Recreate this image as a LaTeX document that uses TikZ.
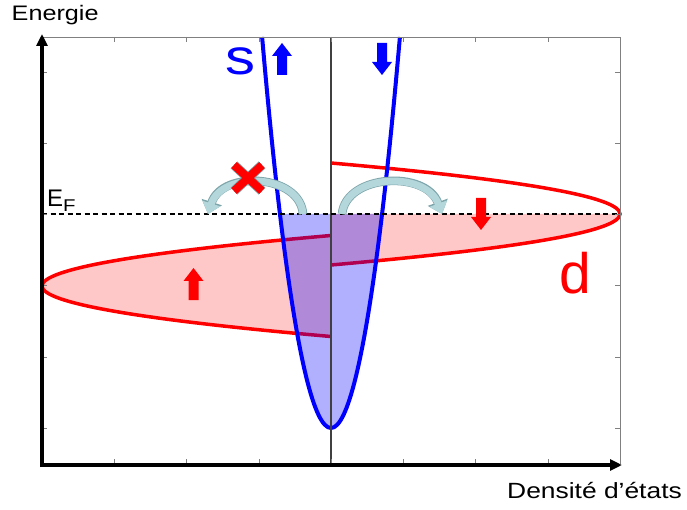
\documentclass[tikz,border=0pt]{standalone}
\usepackage{fontspec}
\setmainfont{Liberation Sans}
\newfontfamily\widefont{Liberation Sans}[FakeStretch=1.2]
\usetikzlibrary{arrows.meta}
\definecolor{bandred}{RGB}{255,0,0}
\definecolor{bandpink}{RGB}{255,200,200}
\definecolor{bandblue}{RGB}{0,0,255}
\definecolor{framegray}{RGB}{128,128,128}
\definecolor{hopfill}{RGB}{180,215,220}
\definecolor{hopedge}{RGB}{125,165,170}
\newcommand{\spinup}[3]{\fill[#1] (#2,#3) ++(-5,0) -- ++(0,-19) -- ++(-5,0) -- ++(10,-13) -- ++(10,13) -- ++(-5,0) -- ++(0,19) -- cycle;}
\newcommand{\spindown}[3]{\fill[#1] (#2,#3) ++(-5,0) -- ++(0,19) -- ++(-5,0) -- ++(10,13) -- ++(10,-13) -- ++(-5,0) -- ++(0,-19) -- cycle;}
\tikzset{
  band/.style={bandred, line width=3.5pt},
  sband/.style={bandblue, line width=4pt},
  hop/.style={hopfill, line width=7pt, -{Triangle[length=11pt,width=18pt]},
    preaction={draw=hopedge, line width=8.6pt, -{Triangle[length=12.5pt,width=20.5pt]}}},
  axis/.style={line width=4pt, -{Triangle[length=12pt,width=11pt]}},
  label/.style={anchor=base west, inner sep=0pt},
}
\begin{document}
\begin{tikzpicture}[x=1pt,y=-1pt]
\useasboundingbox (0,0) rectangle (687,510);

\fill[bandpink] (331,235.5) .. controls (-54.33,269.17) and (-54.33,302.83) .. (331,336.5) -- cycle;
\fill[bandpink] (620,214) .. controls (620,231) and (523.67,248) .. (331,265) -- (331,214) -- cycle;
\draw[band] (331,235.5) .. controls (-54.33,269.17) and (-54.33,302.83) .. (331,336.5);
\draw[band] (331,163) .. controls (716.33,197) and (716.33,231) .. (331,265);

\fill[bandblue, opacity=.31] (280,214) parabola bend (331,428) (382,214) -- cycle;
\draw[sband] (262.1,37) parabola bend (331,428) (399.9,37);

\draw[line width=1.2pt, black!75] (331,37) -- (331,464);
\draw[dash pattern=on 5pt off 3.5pt, line width=1.1pt] (42,214) -- (620,214);

\draw[framegray] (42,37) -- (620,37) -- (620,464);
\foreach \i in {1,...,7} {
  \draw[framegray] ({42+72.25*\i},37) -- ++(0,5);
  \draw[framegray] ({42+72.25*\i},464) -- ++(0,-5);
}
\foreach \j in {0,...,5} {
  \draw[framegray] (42,{72+71.2*\j}) -- ++(5,0);
  \draw[framegray] (620,{72+71.2*\j}) -- ++(-5,0);
}

\draw[axis] (42,467) -- (42,34);
\draw[axis] (40,465) -- (622,465);

\spinup{bandblue}{282}{75}
\spindown{bandblue}{382}{43}
\spinup{bandred}{193.5}{300}
\spindown{bandred}{481}{198}

\draw[hop] (303,214) .. controls (300,174) and (222,170) .. (208,214);
\draw[hop] (342,214) .. controls (346,174) and (426,170) .. (442,214);

\draw[hopedge, line width=9.6pt] (234,165) -- (262,191) (262,165) -- (234,191);
\draw[bandred, line width=8pt] (234,165) -- (262,191) (262,165) -- (234,191);

\node[label, font={\widefont\fontsize{21}{25}\selectfont}] (energie) at (11.5,21) {Energie};
\node[label, font={\widefont\fontsize{22}{26}\selectfont}] (dos) at (507,498) {Densité d’états};
\node[label, font={\fontsize{24}{28}\selectfont}] (ef) at (47,207) {E\raisebox{-5pt}{\widefont\fontsize{17}{20}\selectfont F}};
\node[label, bandblue, font={\widefont\fontsize{50}{56}\selectfont}] (slabel) at (225,75) {s};
\node[label, bandred, font={\fontsize{57}{64}\selectfont}] (dlabel) at (559,293) {d};
\end{tikzpicture}
\end{document}
